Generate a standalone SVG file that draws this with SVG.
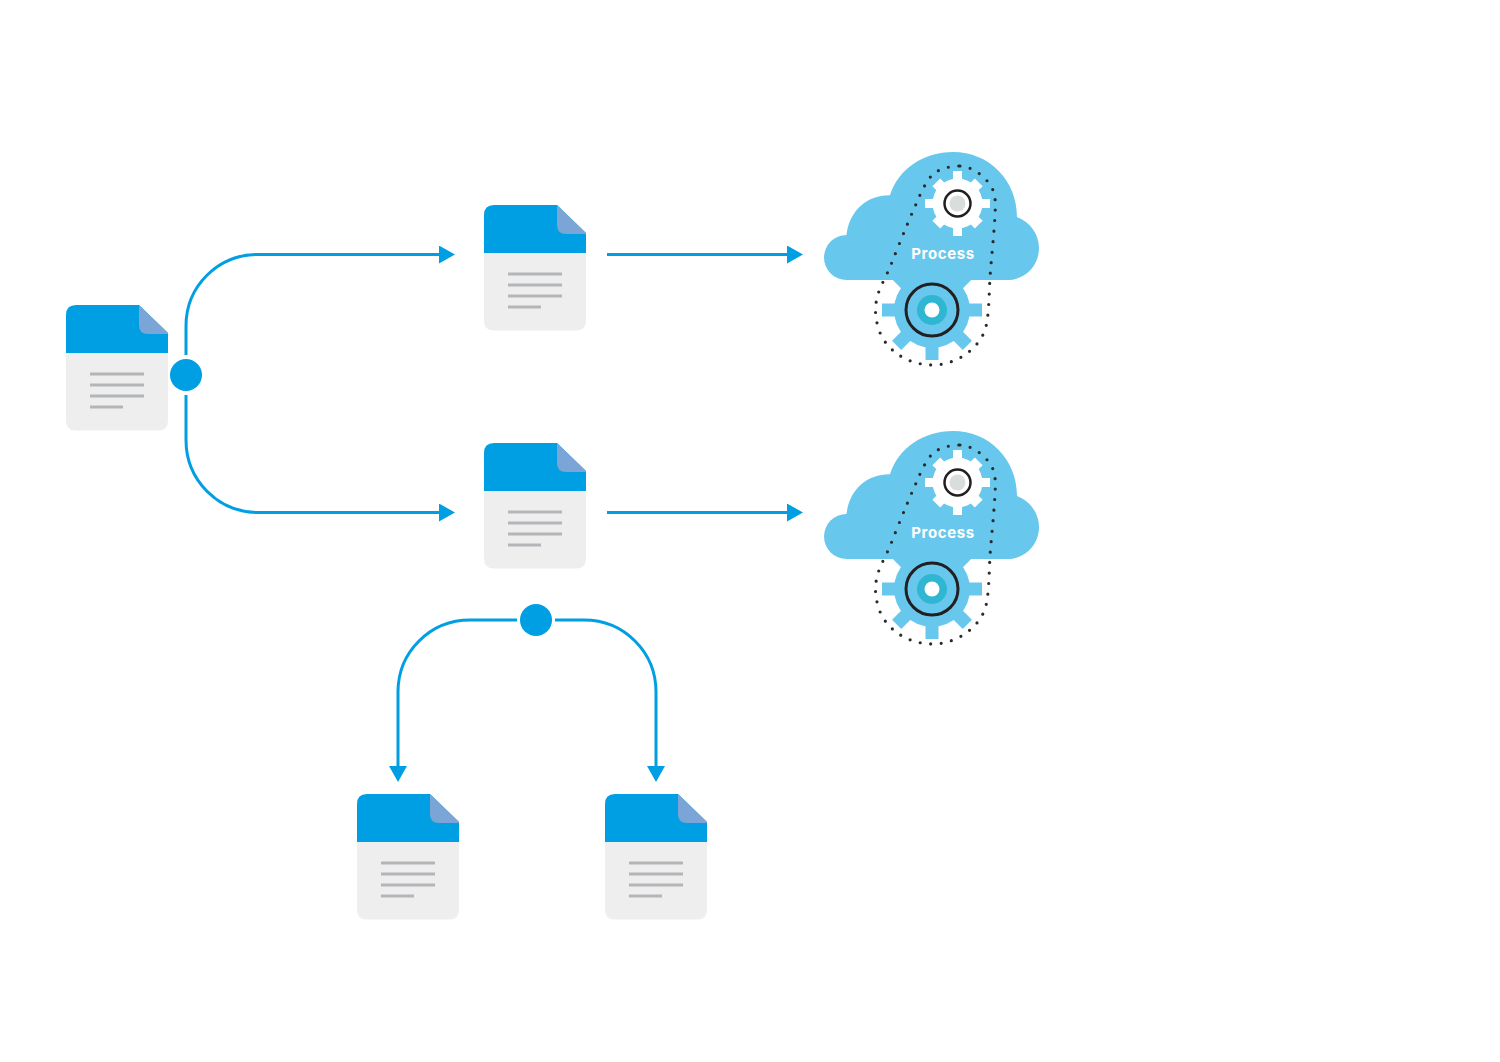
<svg xmlns="http://www.w3.org/2000/svg" xmlns:xlink="http://www.w3.org/1999/xlink" width="1500" height="1062" viewBox="0 0 1500 1062">
<style>
.conn{fill:none;stroke:#009fe3;stroke-width:3}
.dot{fill:#009fe3}
.blue{fill:#009fe3}
.paper{fill:#eeeeef}
.fold{fill:#7aa5d6}
.ln{stroke:#b4b5b9;stroke-width:3;fill:none}
.cloud{fill:#68c7ec}
.dots{fill:none;stroke:#2a2a2a;stroke-width:3.200;stroke-linecap:round;stroke-dasharray:0 10.500}
.label{font-family:"Inter","Liberation Sans",sans-serif;font-weight:700;font-size:15px;fill:#fff;text-anchor:middle;letter-spacing:.6px}
</style>
<defs>
<marker id="arrow" markerUnits="userSpaceOnUse" markerWidth="17" markerHeight="18" refX="1" refY="9" orient="auto"><path d="M0 0L16 9L0 18Z" fill="#009fe3"/></marker>
<g id="doc">
<path class="paper" d="M0 47H102V115.500Q102 125.500 92 125.500H10Q0 125.500 0 115.500Z"/>
<path class="blue" d="M0 48V10Q0 0 10 0H73L102 28V48Z"/>
<path class="fold" d="M73 0L102 28V29H82Q73 29 73 20Z"/>
<path class="ln" d="M24 69H78M24 80H78M24 91H78M24 102H57"/>
</g>
<g id="gearS" fill="#fff">
<circle r="25"/>
<rect x="-4.500" y="-32.500" width="9" height="65"/><rect x="-32.500" y="-4.500" width="65" height="9"/>
<rect x="-5.500" y="-30" width="11" height="60" transform="rotate(45)"/>
<rect x="-5.500" y="-30" width="11" height="60" transform="rotate(-45)"/>
</g>
<g id="gearL" class="cloud">
<circle r="38"/>
<rect x="-6.500" y="-50" width="13" height="100"/><rect x="-50" y="-6.500" width="100" height="13"/>
<rect x="-6.500" y="-50" width="13" height="100" transform="rotate(45)"/>
<rect x="-6.500" y="-50" width="13" height="100" transform="rotate(-45)"/>
</g>
<g id="proc">
<path class="cloud" d="M846.500 280A22.500 22.500 0 0 1 846.500 235C849 212 866 195 890 195.300C898 169 924 152 953 152C989 152 1017 180 1017 217C1030 222 1039 234 1039 248C1039 266 1025 280 1007 280Z"/>
<use href="#gearS" x="957.500" y="203.500"/>
<circle cx="957.500" cy="203.500" r="13" fill="#fff" stroke="#231f20" stroke-width="2.500"/>
<circle cx="957.500" cy="203.500" r="8" fill="#d9dddc"/>
<use href="#gearL" x="932" y="310"/>
<circle cx="932" cy="310" r="26" fill="#68c7ec" stroke="#231f20" stroke-width="3"/>
<circle cx="932" cy="310" r="15" fill="#2fb6d2"/>
<circle cx="932" cy="310" r="7.500" fill="#fff"/>
<path class="dots" d="M960 166C970 166 985 175 992 188C996 196 995.500 205 995 215C994 235 991 262 990 277C989 295 989 318 985 330C978 350 955 365 933 365C905 365 885 348 879 330C873 312 875 298 883 282C890 268 892 262 898 247C905 230 911 215 917 202C921 192 926 182 932 175C938 169 950 166 960 166Z"/>
</g>
</defs>
<g id="connectors">
<path class="conn" marker-end="url(#arrow)" d="M186 355V326C186 286 218 254.500 258 254.500H440"/>
<path class="conn" marker-end="url(#arrow)" d="M186 395V440C186 480 218 512.500 258 512.500H440"/>
<path class="conn" marker-end="url(#arrow)" d="M607 254.500H788"/>
<path class="conn" marker-end="url(#arrow)" d="M607 512.500H788"/>
<path class="conn" marker-end="url(#arrow)" d="M517 620H470C430 620 398 652 398 692V767"/>
<path class="conn" marker-end="url(#arrow)" d="M555 620H584C624 620 656 652 656 692V767"/>
</g>
<g id="doc-source"><use href="#doc" x="66" y="305"/></g>
<g id="doc-top"><use href="#doc" x="484" y="205"/></g>
<g id="doc-middle"><use href="#doc" x="484" y="443"/></g>
<g id="doc-bottom-left"><use href="#doc" x="357" y="794"/></g>
<g id="doc-bottom-right"><use href="#doc" x="605" y="794"/></g>
<g id="junction-left"><circle class="dot" cx="186" cy="375" r="16"/></g>
<g id="junction-bottom"><circle class="dot" cx="536" cy="620" r="16"/></g>
<g id="process-top"><use href="#proc"/><text class="label" x="943" y="259">Process</text></g>
<g id="process-bottom"><use href="#proc" y="279"/><text class="label" x="943" y="538">Process</text></g>
</svg>
